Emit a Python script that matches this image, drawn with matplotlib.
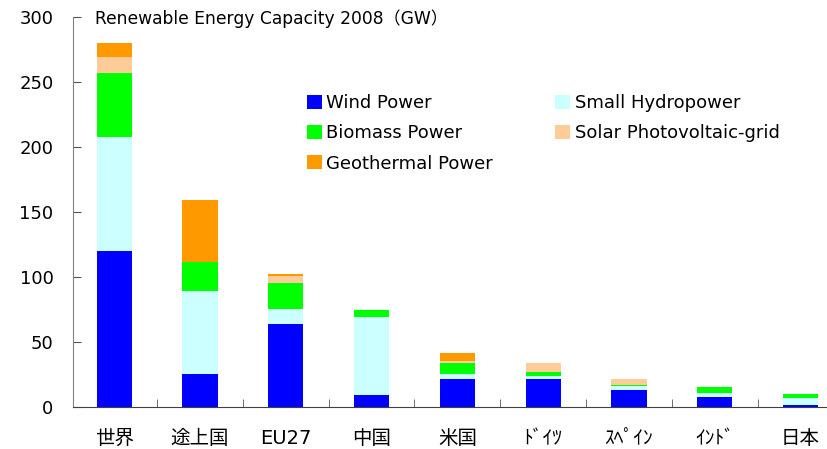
import matplotlib
matplotlib.use("Agg")
import matplotlib.pyplot as plt
import numpy as np

plt.rcParams["font.family"] = ["DejaVu Sans", "Noto Sans CJK JP"]

regions = ["世界", "途上国", "EU27", "中国", "米国", "ﾄﾞｲﾂ", "ｽﾍﾟｲﾝ", "ｲﾝﾄﾞ", "日本"]
wind = [120, 25, 64, 9, 21, 21.5, 13, 7.5, 1.2]
small_hydro = [88, 64, 11, 60, 4.5, 2.3, 3, 3, 5.5]
biomass = [49, 22.5, 20, 5.5, 8, 3, 0.7, 4.6, 3]
solar_pv = [12.5, 0, 5.5, 0, 1.5, 7, 4.7, 0, 0]
geothermal = [11, 48, 1.5, 0, 6, 0, 0, 0, 0]

series = [
    ("Wind Power", wind, "#0000FF"),
    ("Small Hydropower", small_hydro, "#CCFFFF"),
    ("Biomass Power", biomass, "#00FF00"),
    ("Solar Photovoltaic-grid", solar_pv, "#FFCC99"),
    ("Geothermal Power", geothermal, "#FF9900"),
]

fig = plt.figure(figsize=(8.28, 4.49), dpi=100)
ax = fig.add_axes([73 / 828, 42.3 / 449, 1 - 73 / 828, 389.4 / 449])

x = np.arange(len(regions))
bottom = np.zeros(len(regions))
handles = {}
for name, values, color in series:
    bars = ax.bar(x, values, width=0.41, bottom=bottom, color=color, linewidth=0)
    handles[name] = bars
    bottom += np.array(values)

ax.set_ylim(0, 300)
ax.set_xlim(-0.48, 8.32)
ax.set_yticks(range(0, 301, 50))
ax.set_xticks(x)
ax.set_xticklabels(regions, fontsize=14)
ax.set_xticks(x[:-1] + 0.5, minor=True)
ax.tick_params(axis="x", which="major", length=0, pad=16)
ax.tick_params(axis="x", which="minor", direction="in", length=6, color="#555555")
ax.tick_params(axis="y", direction="in", length=6, color="#555555", labelsize=13, pad=14)

for side in ("top", "right"):
    ax.spines[side].set_visible(False)
ax.spines["left"].set_color("#808080")
ax.spines["bottom"].set_color("#404040")

fig.text(95 / 828, 1 - 19 / 449, "Renewable Energy Capacity 2008（GW）",
         fontsize=12.3, va="center", ha="left")

order = ["Wind Power", "Biomass Power", "Geothermal Power", "Small Hydropower", "Solar Photovoltaic-grid"]
ax.legend([handles[n] for n in order], order, ncol=2, frameon=False,
          loc="upper left", bbox_to_anchor=(307 / 828, 1 - 94 / 449),
          bbox_transform=fig.transFigure, fontsize=13,
          handlelength=0.82, handleheight=0.82, handletextpad=0.25,
          labelspacing=0.68, columnspacing=3.45, borderpad=0, borderaxespad=0)

fig.savefig("out.png", dpi=100)
